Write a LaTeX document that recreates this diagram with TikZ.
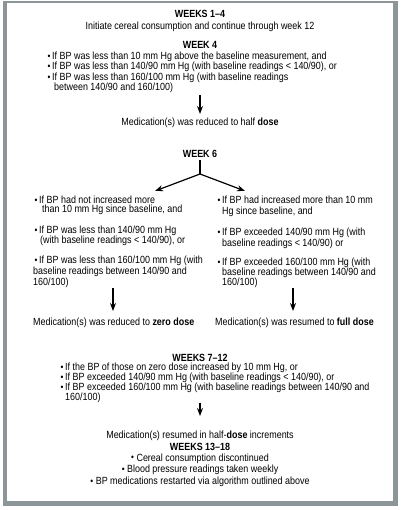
\documentclass[tikz,border=0pt]{standalone}
\usepackage{fontspec}
\setmainfont{Liberation Sans}[FakeStretch=0.86]
\usetikzlibrary{arrows.meta}
\definecolor{framegray}{HTML}{8C9597}
\newcommand{\bul}{\makebox[0pt][r]{\raisebox{0.3pt}{\fontsize{9.5}{9.5}\selectfont\textbullet}\hspace{1.8pt}}}
\newcommand{\cbul}{{\raisebox{0.3pt}{\fontsize{9.5}{9.5}\selectfont\textbullet}}\hspace{2.5pt}}
\begin{document}
\begin{tikzpicture}[x=1pt,y=-1pt,
  txt/.style={inner sep=0pt,font=\fontsize{10.4}{11}\selectfont},
  ltxt/.style={txt,anchor=base west},
  ctxt/.style={txt,anchor=base},
  head/.style={txt,anchor=base,font=\fontsize{10.4}{11}\selectfont\bfseries},
  arr/.style={line width=1.2pt,-{Stealth[length=8pt,width=6pt]}},
  plain/.style={line width=1.2pt}]
\useasboundingbox (0,0) rectangle (400,510);
% frame
\fill[framegray] (3,1.5) rectangle (398,506);
\fill[white] (7,2.8) rectangle (393,501);
% Weeks 1-4
\node[head] (h1) at (200,17.5) {WEEKS 1–4};
\node[ctxt] (t1) at (200,29.5) {Initiate cereal consumption and continue through week 12};
% Week 4
\node[head] (h2) at (200,48.5) {WEEK 4};
\node[ltxt] (b1) at (52,59.5) {\bul If BP was less than 10 mm Hg above the baseline measurement, and};
\node[ltxt] (b2) at (52,70) {\bul If BP was less than 140/90 mm Hg (with baseline readings < 140/90), or};
\node[ltxt] (b3) at (52,80.5) {\bul If BP was less than 160/100 mm Hg (with baseline readings};
\node[ltxt] (b3b) at (54,90.5) {between 140/90 and 160/100)};
\coordinate (a1s) at (200,95);
\coordinate (a1e) at (200,114);
\draw[arr] (a1s) -- (a1e);
\node[ctxt] (m1) at (200,125.5) {Medication(s) was reduced to half \textbf{dose}};
% Week 6
\node[head] (h3) at (200,157.5) {WEEK 6};
\coordinate (fork) at (200,174);
\coordinate (fl) at (155,191);
\coordinate (fr) at (245,191);
\draw[plain] (h3.south) ++(0,2) -- (fork);
\draw[arr] (fork) -- (fl);
\draw[arr] (fork) -- (fr);
% left column
\node[ltxt] (l1) at (39,203.5) {\bul If BP had not increased more};
\node[ltxt] (l1b) at (42,213) {than 10 mm Hg since baseline, and};
\node[ltxt] (l2) at (39,233.5) {\bul If BP was less than 140/90 mm Hg};
\node[ltxt] (l2b) at (40,243.5) {(with baseline readings < 140/90), or};
\node[ltxt] (l3) at (39,263.5) {\bul If BP was less than 160/100 mm Hg (with};
\node[ltxt] (l3b) at (33,274.5) {baseline readings between 140/90 and};
\node[ltxt] (l3c) at (33,285.5) {160/100)};
% right column
\node[ltxt] (r1) at (222,203.5) {\bul If BP had increased more than 10 mm};
\node[ltxt] (r1b) at (222,214.5) {Hg since baseline, and};
\node[ltxt] (r2) at (222,235.5) {\bul If BP exceeded 140/90 mm Hg (with};
\node[ltxt] (r2b) at (222,246) {baseline readings < 140/90) or};
\node[ltxt] (r3) at (222,265.5) {\bul If BP exceeded 160/100 mm Hg (with};
\node[ltxt] (r3b) at (222,275.5) {baseline readings between 140/90 and};
\node[ltxt] (r3c) at (222,285.5) {160/100)};
\coordinate (a2s) at (113,288);
\coordinate (a2e) at (113,311);
\coordinate (a3s) at (293,288);
\coordinate (a3e) at (293,311);
\draw[arr] (a2s) -- (a2e);
\draw[arr] (a3s) -- (a3e);
\node[ltxt] (m2) at (33,325.5) {Medication(s) was reduced to \textbf{zero dose}};
\node[ltxt] (m3) at (215,325.5) {Medication(s) was resumed to \textbf{full dose}};
% Weeks 7-12
\node[head] (h4) at (200,361.5) {WEEKS 7–12};
\node[ltxt] (c1) at (65,370.5) {\bul If the BP of those on zero dose increased by 10 mm Hg, or};
\node[ltxt] (c2) at (65,380.5) {\bul If BP exceeded 140/90 mm Hg (with baseline readings < 140/90), or};
\node[ltxt] (c3) at (65,390.5) {\bul If BP exceeded 160/100 mm Hg (with baseline readings between 140/90 and};
\node[ltxt] (c3b) at (65,400.5) {160/100)};
\coordinate (a4s) at (200,402.5);
\coordinate (a4e) at (200,416);
\draw[arr] (a4s) -- (a4e);
\node[ctxt] (m4) at (200,438.5) {Medication(s) resumed in half-\textbf{dose} increments};
% Weeks 13-18
\node[head] (h5) at (200,450.5) {WEEKS 13–18};
\node[ctxt] (e1) at (200,461) {\cbul Cereal consumption discontinued};
\node[ctxt] (e2) at (200,472.5) {\cbul Blood pressure readings taken weekly};
\node[ctxt] (e3) at (200,484.5) {\cbul BP medications restarted via algorithm outlined above};
\end{tikzpicture}
\end{document}
